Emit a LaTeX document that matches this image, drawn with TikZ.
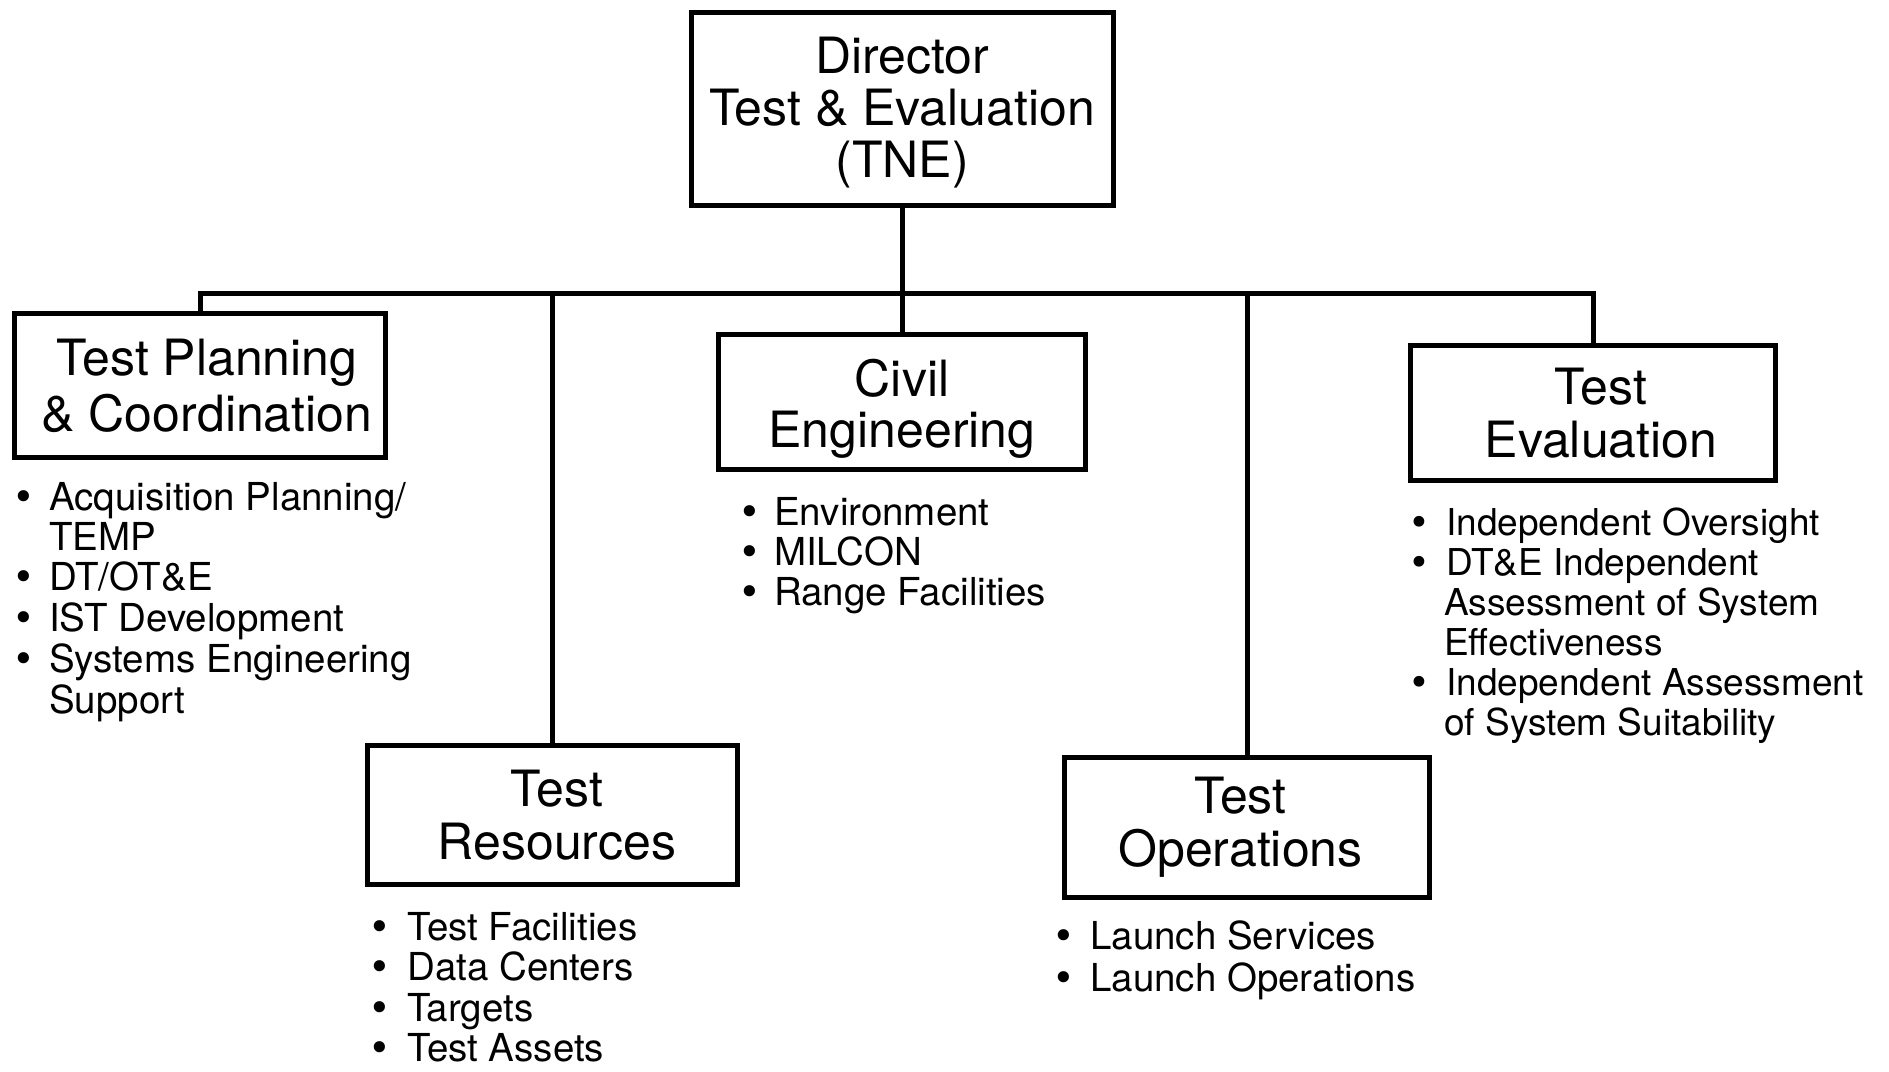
\documentclass[tikz,border=0pt]{standalone}
\usepackage{fontspec}
\setmainfont{TeX Gyre Heros}
\newfontfamily\bulletfont{DejaVu Sans}
\newcommand\blt[1]{\llap{{\bulletfont •}\hspace{#1pt}}}
\newcommand\sh[1]{\hspace*{#1pt}}
\begin{document}
\begin{tikzpicture}[x=1pt,y=-1pt,
  box/.style={draw, line width=5pt, inner sep=0pt, align=center},
  conn/.style={line width=5pt},
  lst/.style={anchor=base west, inner sep=0pt}]
\useasboundingbox (0,0) rectangle (1889,1071);

% boxes
\node[box, minimum width=422pt, minimum height=193pt, font=\fontsize{50}{52}\selectfont] (dir) at (902,109) {\rule{0pt}{44pt}Director\\Test \& Evaluation\\(TNE)};
\node[box, minimum width=371pt, minimum height=144pt, font=\fontsize{50}{56}\selectfont] (tp) at (200,385.5) {\sh{14}Test Planning\\\sh{14}\& Coordination};
\node[box, minimum width=367pt, minimum height=135pt, font=\fontsize{50}{51}\selectfont] (ce) at (902,402) {\rule{0pt}{50pt}Civil\\Engineering};
\node[box, minimum width=365pt, minimum height=135pt, font=\fontsize{50}{53}\selectfont] (te) at (1593,413) {\sh{16}Test\\\sh{16}Evaluation};
\node[box, minimum width=370pt, minimum height=139pt, font=\fontsize{50}{53}\selectfont] (tr) at (552,815) {\sh{10}Test\\\sh{10}Resources};
\node[box, minimum width=365pt, minimum height=140pt, font=\fontsize{50}{53}\selectfont] (to) at (1247,827.5) {\sh{-13}Test\\\sh{-13}Operations};

% connectors
\coordinate (bus) at (0,293);
\draw[conn] (tp.north) |- (te.north |- bus) -- (te.north);
\draw[conn] (dir.south) -- (ce.north);
\draw[conn] (tr.north) -- (tr.north |- bus);
\draw[conn] (to.north) -- (to.north |- bus);

% lists
\node[lst, font=\fontsize{38.5}{40}\selectfont] (tpl) at (49,510) {\begin{tabular}[t]{@{}l@{}}
\blt{13.5}Acquisition Planning/\\
TEMP\\
\blt{13.5}DT/OT\&E\\
\blt{13.5}IST Development\\
\blt{13.5}Systems Engineering\\
Support
\end{tabular}};

\node[lst, font=\fontsize{38.5}{40}\selectfont] (cel) at (774,525) {\begin{tabular}[t]{@{}l@{}}
\blt{13.3}Environment\\
\blt{13.3}MILCON\\
\blt{13.3}Range Facilities
\end{tabular}};

\node[lst, font=\fontsize{37}{40}\selectfont] (tel) at (1446,535) {\begin{tabular}[t]{@{}l@{}}
\blt{15.9}Independent Oversight\\
\blt{15.9}DT\&E Independent\\
\hspace{-2pt}Assessment of System\\
\hspace{-2pt}Effectiveness\\
\blt{15.9}Independent Assessment\\
\hspace{-2pt}of System Suitability
\end{tabular}};

\node[lst, font=\fontsize{38.5}{40.5}\selectfont] (trl) at (407,940) {\begin{tabular}[t]{@{}l@{}}
\blt{16.1}Test Facilities\\
\blt{16.1}Data Centers\\
\blt{16.1}Targets\\
\blt{16.1}Test Assets
\end{tabular}};

\node[lst, font=\fontsize{38.5}{42}\selectfont] (tol) at (1090,949) {\begin{tabular}[t]{@{}l@{}}
\blt{14.8}Launch Services\\
\blt{14.8}Launch Operations
\end{tabular}};
\end{tikzpicture}
\end{document}
